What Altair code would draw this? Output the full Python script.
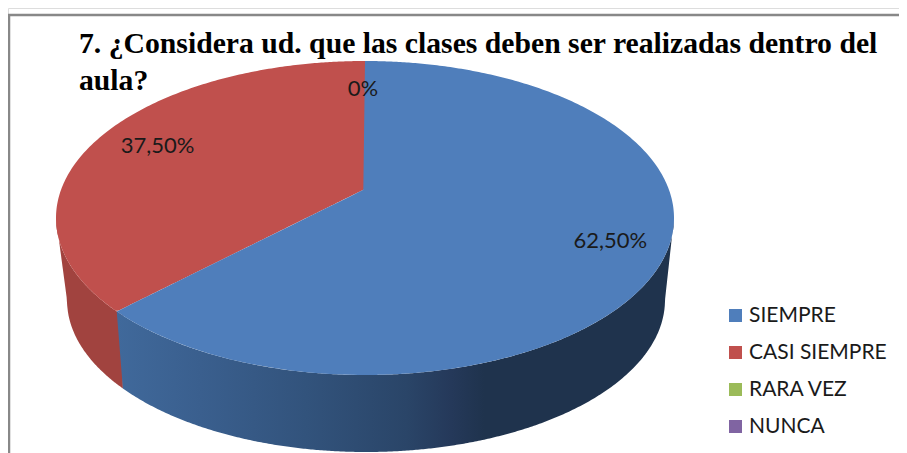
import numpy as np
import pandas as pd
import altair as alt

categories = ["SIEMPRE", "CASI SIEMPRE", "RARA VEZ", "NUNCA"]
shares = [62.5, 37.5, 0, 0]
labels = ["62,50%", "37,50%", "0%"]
colors = ["#4F7EBB", "#C0504D", "#9BBB59", "#8064A2"]
title_lines = ["7. ¿Considera ud. que las clases deben ser realizadas dentro del", "aula?"]

# Pie geometry (3D perspective view)
CX, CY, RX, RY = 365.0, 218.0, 309.0, 157.0   # top face
BX, BY, BRX, BRY = 366.0, 300.0, 299.0, 152.0  # bottom face
AX, AY = 365.0, 189.0                           # apex


def top_lo(x):
    return CY + RY * np.sqrt(np.clip(1 - ((x - CX) / RX) ** 2, 0, 1))


def top_hi(x):
    return CY - RY * np.sqrt(np.clip(1 - ((x - CX) / RX) ** 2, 0, 1))


def bot_lo(x):
    left = BX - BRX
    right = BX + BRX
    y = BY + BRY * np.sqrt(np.clip(1 - ((x - BX) / BRX) ** 2, 0, 1))
    y = np.where(x < left, CY + (x - (CX - RX)) / (left - (CX - RX)) * (BY - CY), y)
    y = np.where(x > right, BY + (x - right) / ((CX + RX) - right) * (CY - BY), y)
    return y


theta = 2 * np.pi * shares[0] / sum(shares)
dx, dy = np.sin(theta) * RX * 1.03, -np.cos(theta) * RY
a = (dx / RX) ** 2 + (dy / RY) ** 2
b = 2 * dy * (AY - CY) / RY ** 2
c = ((AY - CY) / RY) ** 2 - 1
t = (-b + np.sqrt(b * b - 4 * a * c)) / (2 * a)
EX, EY = AX + t * dx, AY + t * dy                # rim point of the slice boundary on the top face
sin_rim = (EX - CX) / RX * 1.012
FX = BX + BRX * sin_rim
FY = BY + BRY * np.sqrt(1 - sin_rim ** 2)        # same point on the bottom face


def seam(x):
    return AY + (x - AX) * (EY - AY) / (EX - AX)


def ticks(a_, b_, n=160):
    # denser near the ends where the ellipse is steep
    u = np.linspace(0, np.pi, n)
    return a_ + (b_ - a_) * (1 - np.cos(u)) / 2


L, R = CX - RX, CX + RX

xs = ticks(L, AX)
red_top = pd.DataFrame({
    "x": xs, "y": top_hi(xs),
    "y2": np.where(xs < EX, top_lo(xs), seam(np.maximum(xs, EX))),
    "cat": categories[1],
})
xs = np.unique(np.concatenate([ticks(EX, AX, 20), ticks(AX, R)]))
blue_top = pd.DataFrame({
    "x": xs,
    "y": np.where(xs < AX, seam(xs), top_hi(xs)),
    "y2": top_lo(xs),
    "cat": categories[0],
})
xs = ticks(L, FX, 120)
red_wall = pd.DataFrame({"x": xs, "y": top_lo(xs), "y2": bot_lo(xs)})
xs = np.unique(np.concatenate([np.linspace(EX, FX, 5), np.linspace(FX, R, 300), ticks(BX + BRX - 20, R, 60)]))
blue_wall = pd.DataFrame({
    "x": xs, "y": top_lo(xs),
    "y2": np.where(xs < FX, top_lo(EX) + (xs - EX) / (FX - EX) * (FY - top_lo(EX)), bot_lo(xs)),
})

label_df = pd.DataFrame({
    "label": labels,
    "frac": [shares[0] / 2, shares[0] + shares[1] / 2, 100.0],
    "dx": [17, 21, -2],
    "dy": [-25, -24, -3],
})
label_df["x"] = CX + 0.8 * RX * np.sin(label_df["frac"] / 100 * 2 * np.pi)
label_df["y"] = CY - 0.8 * RY * np.cos(label_df["frac"] / 100 * 2 * np.pi)

xs_ = alt.Scale(domain=[8, 899], nice=False, zero=False)
ys_ = alt.Scale(domain=[453, 8], nice=False, zero=False)
X = alt.X("x:Q", scale=xs_, axis=None)
Y = alt.Y("y:Q", scale=ys_, axis=None)

blue_grad = alt.LinearGradient(
    gradient="linear", x1=0, x2=1, y1=0, y2=0,
    stops=[
        alt.GradientStop(offset=0, color="#40699B"),
        alt.GradientStop(offset=0.15, color="#3A5F8E"),
        alt.GradientStop(offset=0.34, color="#32537C"),
        alt.GradientStop(offset=0.52, color="#2A4568"),
        alt.GradientStop(offset=0.6, color="#25395A"),
        alt.GradientStop(offset=0.66, color="#1F334D"),
        alt.GradientStop(offset=1, color="#1F334D"),
    ],
)

layers = [
    alt.Chart(red_wall).mark_area(color="#A1433F").encode(x=X, y=Y, y2="y2:Q"),
    alt.Chart(blue_wall).mark_area(color=blue_grad).encode(x=X, y=Y, y2="y2:Q"),
    alt.Chart(pd.concat([red_top, blue_top])).mark_area().encode(
        x=X, y=Y, y2="y2:Q",
        color=alt.Color(
            "cat:N",
            scale=alt.Scale(domain=categories, range=colors),
            legend=alt.Legend(
                title=None, orient="none", legendX=717, legendY=297,
                symbolType="square", symbolSize=169, symbolStrokeWidth=0, symbolOpacity=1,
                labelFont="Lato", labelFontSize=21, labelColor="#1a1a1a", labelLimit=300,
                rowPadding=15, labelOffset=3,
            ),
        ),
    ),
]
for _, r in label_df.iterrows():
    layers.append(
        alt.Chart(label_df[label_df["label"] == r["label"]])
        .mark_text(font="Lato", fontSize=22, color="#1a1a1a", dx=int(r["dx"]), dy=int(r["dy"]))
        .encode(x=X, y=Y, text="label:N")
    )

border_h = pd.DataFrame({"x": [8.0], "x2": [899.0], "y": [15.0]})
border_v = pd.DataFrame({"x": [9.0], "y": [15.0], "y2": [453.0]})
layers.append(alt.Chart(border_h).mark_rule(color="#888888", strokeWidth=2.5).encode(x=X, x2="x2:Q", y=Y))
layers.append(alt.Chart(border_v).mark_rule(color="#888888", strokeWidth=2.5).encode(x=X, y=Y, y2="y2:Q"))

chart = (
    alt.layer(*layers)
    .properties(
        width=891, height=445, padding=0,
        autosize=alt.AutoSizeParams(type="none"),
        title=alt.TitleParams(
            text=title_lines, anchor="start", align="left", frame="group",
            font="Liberation Serif", fontSize=29.7, fontWeight="bold", color="#000000",
            lineHeight=37.5, dx=71, dy=89, offset=0, zindex=1, baseline="top",
        ),
    )
    .configure_view(stroke=None)
    .configure(background="white")
)
chart.save("out.html", embed_options={"renderer": "svg", "actions": False})
